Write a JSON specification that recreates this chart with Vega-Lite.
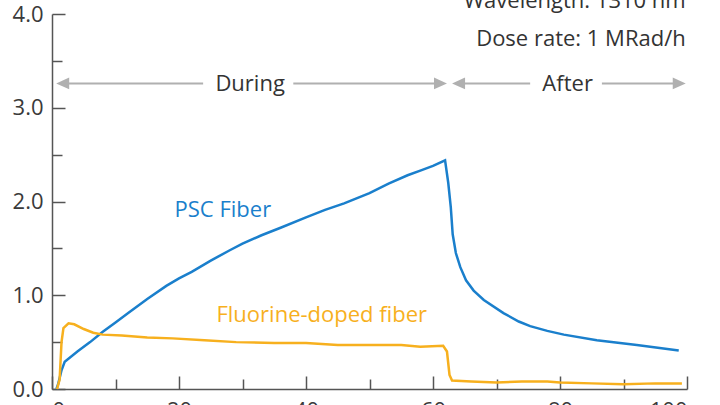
{
  "$schema": "https://vega.github.io/schema/vega-lite/v6.json",
  "width": 635,
  "height": 375,
  "autosize": {"type": "none"},
  "padding": {"left": 52, "top": 14, "right": 33, "bottom": 16},
  "background": "white",
  "config": {
    "view": {"stroke": null},
    "font": "Open Sans",
    "axis": {"grid": false, "title": null, "domainColor": "#555555", "domainWidth": 1.5, "tickColor": "#555555", "tickWidth": 1.5, "labelFont": "Open Sans", "labelFontSize": 22, "labelColor": "#3a3a3a"}
  },
  "datasets": {
    "curves": [
      {"x": 0.7, "y": 0, "series": "PSC Fiber"},
      {"x": 1.0, "y": 0.06, "series": "PSC Fiber"},
      {"x": 1.5, "y": 0.2, "series": "PSC Fiber"},
      {"x": 2.0, "y": 0.29, "series": "PSC Fiber"},
      {"x": 4, "y": 0.4, "series": "PSC Fiber"},
      {"x": 6, "y": 0.5, "series": "PSC Fiber"},
      {"x": 8, "y": 0.61, "series": "PSC Fiber"},
      {"x": 10, "y": 0.71, "series": "PSC Fiber"},
      {"x": 12, "y": 0.81, "series": "PSC Fiber"},
      {"x": 15, "y": 0.96, "series": "PSC Fiber"},
      {"x": 18, "y": 1.1, "series": "PSC Fiber"},
      {"x": 20, "y": 1.18, "series": "PSC Fiber"},
      {"x": 22, "y": 1.25, "series": "PSC Fiber"},
      {"x": 25, "y": 1.37, "series": "PSC Fiber"},
      {"x": 28, "y": 1.48, "series": "PSC Fiber"},
      {"x": 30, "y": 1.55, "series": "PSC Fiber"},
      {"x": 33, "y": 1.64, "series": "PSC Fiber"},
      {"x": 36, "y": 1.72, "series": "PSC Fiber"},
      {"x": 40, "y": 1.83, "series": "PSC Fiber"},
      {"x": 43, "y": 1.91, "series": "PSC Fiber"},
      {"x": 46, "y": 1.98, "series": "PSC Fiber"},
      {"x": 50, "y": 2.09, "series": "PSC Fiber"},
      {"x": 53, "y": 2.19, "series": "PSC Fiber"},
      {"x": 56, "y": 2.28, "series": "PSC Fiber"},
      {"x": 58, "y": 2.33, "series": "PSC Fiber"},
      {"x": 60, "y": 2.38, "series": "PSC Fiber"},
      {"x": 61.9, "y": 2.44, "series": "PSC Fiber"},
      {"x": 62.4, "y": 2.2, "series": "PSC Fiber"},
      {"x": 62.8, "y": 1.94, "series": "PSC Fiber"},
      {"x": 63.1, "y": 1.65, "series": "PSC Fiber"},
      {"x": 63.6, "y": 1.45, "series": "PSC Fiber"},
      {"x": 64.3, "y": 1.3, "series": "PSC Fiber"},
      {"x": 65.2, "y": 1.16, "series": "PSC Fiber"},
      {"x": 66.4, "y": 1.05, "series": "PSC Fiber"},
      {"x": 68, "y": 0.95, "series": "PSC Fiber"},
      {"x": 71.1, "y": 0.81, "series": "PSC Fiber"},
      {"x": 73.5, "y": 0.72, "series": "PSC Fiber"},
      {"x": 75.3, "y": 0.67, "series": "PSC Fiber"},
      {"x": 78, "y": 0.62, "series": "PSC Fiber"},
      {"x": 80.6, "y": 0.58, "series": "PSC Fiber"},
      {"x": 85.8, "y": 0.52, "series": "PSC Fiber"},
      {"x": 92.1, "y": 0.47, "series": "PSC Fiber"},
      {"x": 98.7, "y": 0.41, "series": "PSC Fiber"},
      {"x": 0.8, "y": 0, "series": "Fluorine-doped fiber"},
      {"x": 1.2, "y": 0.1, "series": "Fluorine-doped fiber"},
      {"x": 1.5, "y": 0.5, "series": "Fluorine-doped fiber"},
      {"x": 1.8, "y": 0.65, "series": "Fluorine-doped fiber"},
      {"x": 2.6, "y": 0.7, "series": "Fluorine-doped fiber"},
      {"x": 3.5, "y": 0.69, "series": "Fluorine-doped fiber"},
      {"x": 5, "y": 0.64, "series": "Fluorine-doped fiber"},
      {"x": 6.5, "y": 0.6, "series": "Fluorine-doped fiber"},
      {"x": 8, "y": 0.58, "series": "Fluorine-doped fiber"},
      {"x": 11, "y": 0.57, "series": "Fluorine-doped fiber"},
      {"x": 15, "y": 0.55, "series": "Fluorine-doped fiber"},
      {"x": 19, "y": 0.54, "series": "Fluorine-doped fiber"},
      {"x": 24, "y": 0.52, "series": "Fluorine-doped fiber"},
      {"x": 29, "y": 0.5, "series": "Fluorine-doped fiber"},
      {"x": 35, "y": 0.49, "series": "Fluorine-doped fiber"},
      {"x": 40, "y": 0.49, "series": "Fluorine-doped fiber"},
      {"x": 45, "y": 0.47, "series": "Fluorine-doped fiber"},
      {"x": 50, "y": 0.47, "series": "Fluorine-doped fiber"},
      {"x": 55, "y": 0.47, "series": "Fluorine-doped fiber"},
      {"x": 58, "y": 0.45, "series": "Fluorine-doped fiber"},
      {"x": 61.6, "y": 0.46, "series": "Fluorine-doped fiber"},
      {"x": 62.2, "y": 0.4, "series": "Fluorine-doped fiber"},
      {"x": 62.6, "y": 0.15, "series": "Fluorine-doped fiber"},
      {"x": 63.0, "y": 0.09, "series": "Fluorine-doped fiber"},
      {"x": 66, "y": 0.08, "series": "Fluorine-doped fiber"},
      {"x": 70, "y": 0.07, "series": "Fluorine-doped fiber"},
      {"x": 74, "y": 0.08, "series": "Fluorine-doped fiber"},
      {"x": 78, "y": 0.08, "series": "Fluorine-doped fiber"},
      {"x": 80, "y": 0.07, "series": "Fluorine-doped fiber"},
      {"x": 85, "y": 0.06, "series": "Fluorine-doped fiber"},
      {"x": 90, "y": 0.05, "series": "Fluorine-doped fiber"},
      {"x": 95, "y": 0.06, "series": "Fluorine-doped fiber"},
      {"x": 99.2, "y": 0.06, "series": "Fluorine-doped fiber"}
    ],
    "curveLabels": [
      {"x": 19.3, "y": 1.84, "series": "PSC Fiber"},
      {"x": 25.9, "y": 0.72, "series": "Fluorine-doped fiber"}
    ],
    "notes": [
      {"x": 99.8, "y": 4.06, "text": "Wavelength: 1310 nm"},
      {"x": 99.8, "y": 3.66, "text": "Dose rate: 1 MRad/h"}
    ],
    "phases": [
      {"x": 31.2, "y": 3.18, "text": "During"},
      {"x": 81.2, "y": 3.18, "text": "After"}
    ],
    "arrowLines": [
      {"x": 1.5, "x2": 23.8, "y": 3.26},
      {"x": 38.0, "x2": 61.5, "y": 3.26},
      {"x": 63.8, "x2": 75.3, "y": 3.26},
      {"x": 86.6, "x2": 99.0, "y": 3.26}
    ],
    "leftHeads": [
      {"x": 0.66, "y": 3.26},
      {"x": 63.0, "y": 3.26}
    ],
    "rightHeads": [
      {"x": 62.2, "y": 3.26},
      {"x": 99.8, "y": 3.26}
    ]
  },
  "layer": [
    {
      "data": {"name": "arrowLines"},
      "mark": {"type": "rule", "color": "#b0b0b0", "strokeWidth": 2},
      "encoding": {
        "x": {"field": "x", "type": "quantitative", "scale": {"domain": [0, 100], "nice": false},
          "axis": {"values": [0, 10, 20, 30, 40, 50, 60, 70, 80, 90, 100], "labelExpr": "datum.value % 20 === 0 ? datum.label : ''", "tickSize": {"condition": {"test": "datum.value % 20 === 0", "value": -13}, "value": -10}, "labelPadding": 24}},
        "x2": {"field": "x2"},
        "y": {"field": "y", "type": "quantitative", "scale": {"domain": [0, 4], "nice": false},
          "axis": {"values": [0, 0.5, 1, 1.5, 2, 2.5, 3, 3.5, 4], "labelExpr": "datum.value % 1 === 0 ? format(datum.value, '.1f') : ''", "tickSize": {"condition": {"test": "datum.value % 1 === 0", "value": -13}, "value": -10}, "labelPadding": 22}}
      }
    },
    {
      "data": {"name": "leftHeads"},
      "mark": {"type": "point", "shape": "M0,0L1,-0.45L1,0.45Z", "filled": true, "color": "#b0b0b0", "opacity": 1, "size": 676},
      "encoding": {"x": {"field": "x", "type": "quantitative"}, "y": {"field": "y", "type": "quantitative"}}
    },
    {
      "data": {"name": "rightHeads"},
      "mark": {"type": "point", "shape": "M0,0L-1,-0.45L-1,0.45Z", "filled": true, "color": "#b0b0b0", "opacity": 1, "size": 676},
      "encoding": {"x": {"field": "x", "type": "quantitative"}, "y": {"field": "y", "type": "quantitative"}}
    },
    {
      "data": {"name": "curves"},
      "mark": {"type": "line", "strokeWidth": 2.5, "clip": false},
      "encoding": {
        "x": {"field": "x", "type": "quantitative"},
        "y": {"field": "y", "type": "quantitative"},
        "color": {"field": "series", "type": "nominal", "scale": {"domain": ["PSC Fiber", "Fluorine-doped fiber"], "range": ["#1a7fcc", "#f7b01e"]}, "legend": null}
      }
    },
    {
      "data": {"name": "curveLabels"},
      "mark": {"type": "text", "align": "left", "baseline": "alphabetic", "fontSize": 22, "font": "Open Sans"},
      "encoding": {
        "x": {"field": "x", "type": "quantitative"},
        "y": {"field": "y", "type": "quantitative"},
        "text": {"field": "series"},
        "color": {"field": "series", "type": "nominal", "legend": null}
      }
    },
    {
      "data": {"name": "notes"},
      "mark": {"type": "text", "align": "right", "baseline": "alphabetic", "fontSize": 22, "font": "Open Sans", "color": "#333333"},
      "encoding": {
        "x": {"field": "x", "type": "quantitative"},
        "y": {"field": "y", "type": "quantitative"},
        "text": {"field": "text"}
      }
    },
    {
      "data": {"name": "phases"},
      "mark": {"type": "text", "align": "center", "baseline": "alphabetic", "fontSize": 22, "font": "Open Sans", "color": "#333333"},
      "encoding": {
        "x": {"field": "x", "type": "quantitative"},
        "y": {"field": "y", "type": "quantitative"},
        "text": {"field": "text"}
      }
    }
  ]
}
